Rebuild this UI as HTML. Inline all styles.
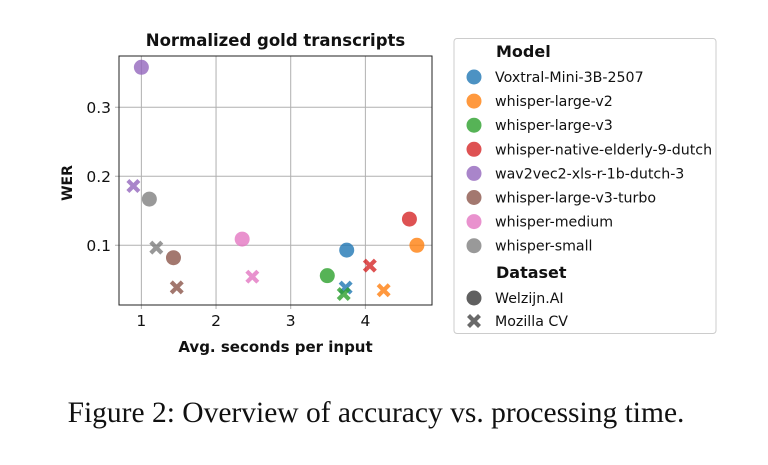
<!DOCTYPE html>
<html><head><meta charset="utf-8"><style>
body{margin:0;background:#fff;width:768px;height:460px;overflow:hidden}
svg text{font-family:"DejaVu Sans","Liberation Sans",sans-serif;fill:#111}
</style></head><body>
<svg width="768" height="460">
<g id="plot"></g>
<text x="376" y="422" text-anchor="middle" style="font-family:'Liberation Serif',serif;font-size:29.5px">Figure 2: Overview of accuracy vs. processing time.</text>
</svg>
<script>
const models=["Voxtral-Mini-3B-2507","whisper-large-v2","whisper-large-v3","whisper-native-elderly-9-dutch","wav2vec2-xls-r-1b-dutch-3","whisper-large-v3-turbo","whisper-medium","whisper-small"];
const colors=["#1f77b4","#ff7f0e","#2ca02c","#d62728","#9467bd","#8c564b","#e377c2","#7f7f7f"];
const welzijnX=[3.75,4.69,3.49,4.59,1.0,1.43,2.35,1.107];
const welzijnY=[0.093,0.100,0.056,0.138,0.358,0.082,0.109,0.167];
const mozillaX=[3.736,4.245,3.71,4.06,0.893,1.474,2.486,1.2];
const mozillaY=[0.0386,0.0348,0.0294,0.0705,0.186,0.039,0.0545,0.0966];
const xTicks=[1,2,3,4];
const yTicks=[0.1,0.2,0.3];
const NS="http://www.w3.org/2000/svg";
const g=document.getElementById('plot');
const L=119,R=432,T=56,B=305;
const sx=v=>66.7+v*74.67, sy=v=>314.3-v*690;
function el(t,a,txt){const e=document.createElementNS(NS,t);for(const k in a)e.setAttribute(k,a[k]);if(txt!==undefined)e.textContent=txt;g.appendChild(e);return e;}
xTicks.forEach(v=>{
 const l=el('line',{x1:sx(v),x2:sx(v),y1:T,y2:B+4,stroke:'#b0b0b0','stroke-width':1});
 
 
 const t=el('text',{x:sx(v),y:B+21,'text-anchor':'middle','font-size':15.5},v);
 
 
});
yTicks.forEach(v=>{
 const l=el('line',{x1:L-4,x2:R,y1:sy(v),y2:sy(v),stroke:'#b0b0b0','stroke-width':1});
 
 
 const t=el('text',{x:L-8,y:sy(v)+5.5,'text-anchor':'end','font-size':15.5},v.toFixed(1));
 
 
});
const fr=el('rect',{x:L,y:T,width:R-L,height:B-T,fill:'none',stroke:'#222','stroke-width':1});


const ti=el('text',{x:(L+R)/2,y:46,'text-anchor':'middle','font-size':16.5,'font-weight':'bold'},'Normalized gold transcripts');


const xt=el('text',{x:(L+R)/2,y:352,'text-anchor':'middle','font-size':15,'font-weight':'bold'},'Avg. seconds per input');


const yt=el('text',{x:0,y:0,'text-anchor':'middle','font-size':14,'font-weight':'bold',transform:'translate(72,183) rotate(-90)'},'WER');


function cross(x,y,c,s){
 const d=`M${x-s},${y-s}L${x+s},${y+s}M${x-s},${y+s}L${x+s},${y-s}`;
 return el('path',{d,stroke:c,'stroke-width':4.2,'stroke-linecap':'butt',opacity:0.8});
}
models.forEach((m,i)=>{
 const c=el('circle',{cx:sx(welzijnX[i]),cy:sy(welzijnY[i]),r:7.5,fill:colors[i],opacity:0.8});
 
 
 const x=cross(sx(mozillaX[i]),sy(mozillaY[i]),colors[i],5.5);
 
 
});
const lb=el('rect',{x:454,y:38.5,width:262,height:295,rx:3,fill:'#fff',stroke:'#ccc','stroke-width':1});


const h1=el('text',{x:496,y:57,'font-size':16,'font-weight':'bold'},'Model');


models.forEach((m,i)=>{
 const y=77+i*24.1;
 const c=el('circle',{cx:474,cy:y,r:7.5,fill:colors[i],opacity:0.8});
 
 
 const t=el('text',{x:495,y:y+5,'font-size':14.2},m);
 
 
});
const h2=el('text',{x:496,y:278,'font-size':16,'font-weight':'bold'},'Dataset');


const wc=el('circle',{cx:474,cy:298,r:7.5,fill:'#444',opacity:0.85});


const wt=el('text',{x:495,y:303,'font-size':14.2},'Welzijn.AI');


const mc=cross(474,321,'#444',5.5);


const mt=el('text',{x:495,y:326,'font-size':14.2},'Mozilla CV');


</script>
</body></html>
